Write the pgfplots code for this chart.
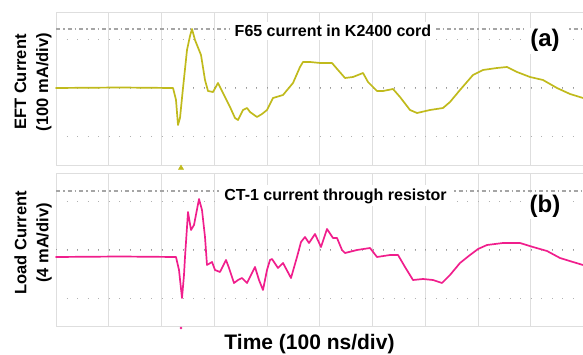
\documentclass[border=0pt]{standalone}
\usepackage{pgfplots}
\pgfplotsset{compat=1.18}
\usepackage{fontspec}
\setmainfont{Liberation Sans}
\definecolor{traceA}{RGB}{192,186,28}
\definecolor{traceB}{RGB}{240,30,140}
\definecolor{gridc}{RGB}{222,222,222}
\definecolor{cursorc}{RGB}{165,165,165}
\pgfplotsset{scopeaxis/.style={
  scale only axis, width=527pt, height=153pt,
  xmin=56, xmax=583, enlargelimits=false, clip=false,
  axis line style={draw=none},
  xtick={56,108.75,161.5,214.25,267,319.75,372.5,425.25,478,530.75},
  ytick={-48.5,48.5},
  xticklabels={}, yticklabels={},
  major tick length=0pt,
  xmajorgrids, ymajorgrids,
  x grid style={gridc, line width=0.8pt},
  y grid style={black!30, line width=0.9pt, dash pattern=on 0.9pt off 9.65pt},
  extra y ticks={0}, extra y tick labels={},
  extra y tick style={grid style={solid, gridc, line width=0.8pt}},
}}
\begin{document}
\begin{tikzpicture}[x=1pt,y=1pt]
\useasboundingbox (0,0) rectangle (583,354);
% ---------- panel (a)
\begin{axis}[scopeaxis, at={(56pt,189pt)}, anchor=south west, ymin=-77, ymax=76]
\draw[gridc, line width=0.8pt] (rel axis cs:1,1) -- (rel axis cs:0,1) -- (rel axis cs:0,0) -- (rel axis cs:1,0);
\draw[black!40, line width=1pt, dash pattern=on 1pt off 9.55pt] (axis cs:56,0) -- (axis cs:583,0);
\draw[cursorc, line width=1.3pt, dash pattern=on 4pt off 3pt on 1.5pt off 3pt] (axis cs:56,59) -- (axis cs:583,59);
\addplot[traceA, line width=1.7pt, line join=round, line cap=round] coordinates {
(56,0) (120,0.5) (173,0) (176,-12) (178,-37) (180,-30) (183,0) (187,38) (190,52) (192,59) (195,48) (197,43) (201,33) (205,8) (208,-3) (213,-4) (218,5) (223,-5) (230,-19) (235,-30) (238,-32) (243,-22) (247,-20) (250,-24) (257,-29) (262,-26) (267,-22) (273,-10) (283,-7) (293,5) (300,21) (303,26) (310,26) (320,25) (332,25) (338,18) (345,10) (353,11) (363,15) (368,6) (377,-3) (383,-3) (393,-1) (400,-9) (410,-22) (417,-25) (430,-22) (443,-20) (450,-14) (460,-2) (473,13) (483,18) (497,20) (507,21) (517,16) (530,11) (543,8) (557,0) (570,-6) (583,-10)
};
\addplot[traceA, only marks, mark=triangle*, mark size=3pt] coordinates {(181,-80)};
\end{axis}
% ---------- panel (b)
\begin{axis}[scopeaxis, at={(56pt,28pt)}, anchor=south west, ymin=-76, ymax=77]
\draw[gridc, line width=0.8pt] (rel axis cs:1,1) -- (rel axis cs:0,1) -- (rel axis cs:0,0) -- (rel axis cs:1,0);
\draw[black!40, line width=1pt, dash pattern=on 1pt off 9.55pt] (axis cs:56,0) -- (axis cs:583,0);
\draw[cursorc, line width=1.3pt, dash pattern=on 4pt off 3pt on 1.5pt off 3pt] (axis cs:56,59) -- (axis cs:583,59);
\addplot[traceB, line width=1.7pt, line join=round, line cap=round] coordinates {
(56,-7) (120,-6.5) (176,-7) (179,-20) (182,-48) (184,-25) (185,-7) (188,38) (191,20) (194,25) (199,51) (202,40) (205,13) (207,-15) (212,-12) (215,-20) (220,-22) (226,-10) (229,-18) (234,-33) (238,-30) (242,-28) (247,-33) (250,-27) (255,-17) (259,-30) (263,-40) (267,-20) (270,-10) (272,-9) (278,-18) (283,-13) (291,-28) (297,-7) (301,8) (305,13) (309,7) (315,16) (321,3) (327,21) (333,12) (337,12) (342,0) (345,-3) (357,0) (370,2) (377,-7) (390,-5) (398,-5) (405,-17) (413,-30) (423,-29) (433,-30) (442,-33) (450,-25) (460,-13) (470,-5) (478,1) (487,5) (503,7) (520,7) (533,3) (547,-1) (560,-8) (573,-12) (583,-15)
};
\addplot[traceB, only marks, mark=*, mark size=1.2pt] coordinates {(181,-78)};
\end{axis}
% ---------- texts
\node[font=\fontsize{16}{19}\selectfont\bfseries, fill=white, inner xsep=5pt, inner ysep=3pt, anchor=base] at (333,317) {F65 current in K2400 cord};
\node[font=\fontsize{24}{28}\selectfont\bfseries, fill=white, inner xsep=6pt, inner ysep=2pt, anchor=base] at (545,307) {(a)};
\node[font=\fontsize{16}{19}\selectfont\bfseries, fill=white, inner xsep=5pt, inner ysep=3pt, anchor=base] at (335.5,154) {CT-1 current through resistor};
\node[font=\fontsize{24}{28}\selectfont\bfseries, fill=white, inner xsep=6pt, inner ysep=2pt, anchor=base] at (545,142) {(b)};
\node[rotate=90, align=center, font=\fontsize{16.5}{22}\selectfont\bfseries] at (33,272) {EFT Current\\(100 mA/div)};
\node[rotate=90, align=center, font=\fontsize{16.5}{22}\selectfont\bfseries] at (33,111) {Load Current\\(4 mA/div)};
\node[font=\fontsize{21}{25}\selectfont\bfseries, anchor=base] at (309.5,5) {Time (100 ns/div)};
\end{tikzpicture}
\end{document}
